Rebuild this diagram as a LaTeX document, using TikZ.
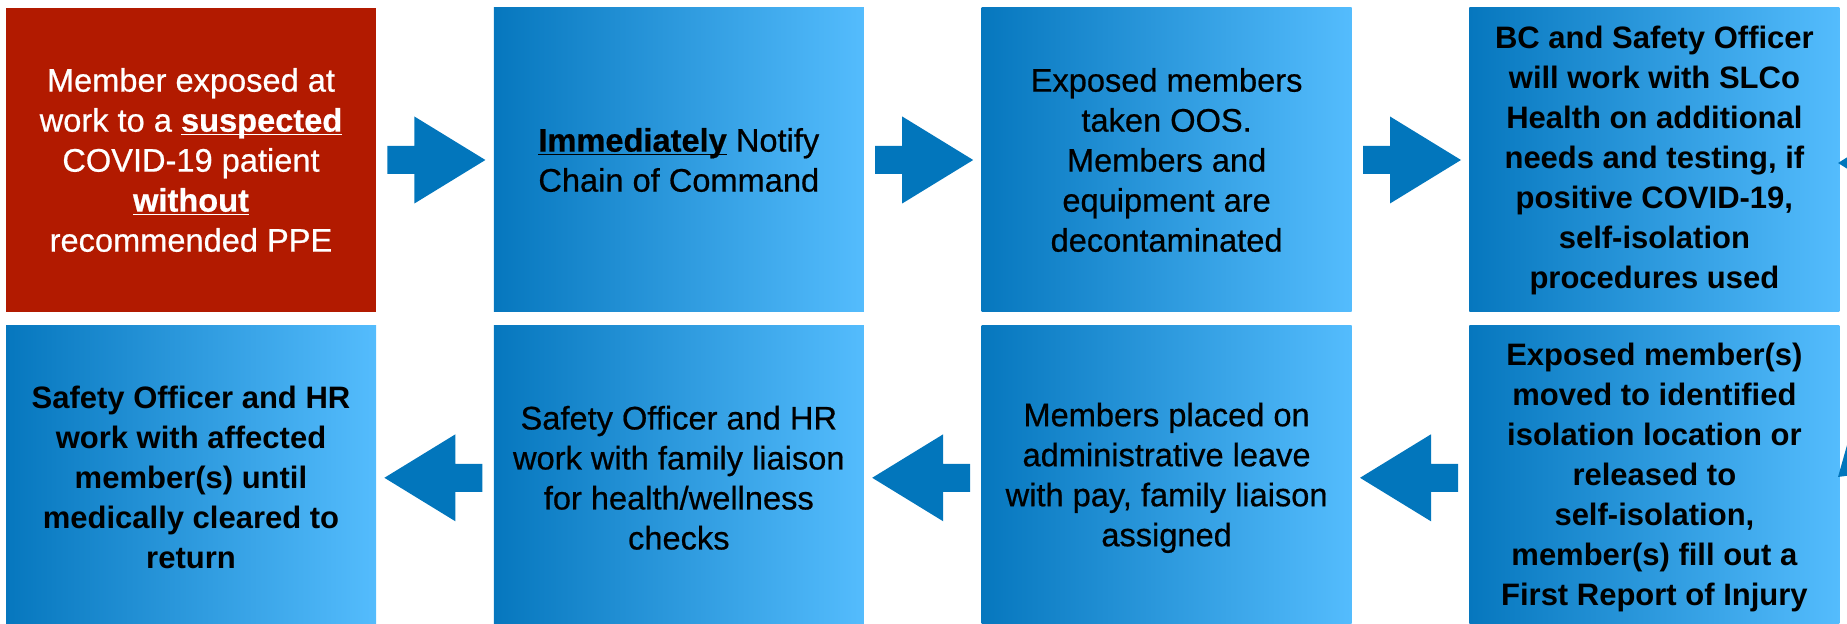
\documentclass[tikz,border=0pt]{standalone}
\usepackage{fontspec}
\setmainfont{Liberation Sans}
\newfontfamily\medfont{Liberation Sans}[FakeBold=0.6]
\usetikzlibrary{calc, positioning}
\definecolor{boxred}{RGB}{178,26,0}
\definecolor{boxdark}{RGB}{6,119,190}
\definecolor{boxlight}{RGB}{84,188,253}
\definecolor{arrowblue}{RGB}{2,118,188}
\newcommand\ulb[1]{\underline{\smash{\textbf{#1}}}}
\newcommand\barrow[2]{% from anchor, to anchor
  \coordinate (AT) at ($(#1)!5.5pt!(#2)$);   % tail of the arrow
  \coordinate (AP) at ($(#2)!4pt!(#1)$);     % tip of the arrow
  \coordinate (AH) at ($(AP)!35.5pt!(AT)$);  % base of the head
  \fill[arrowblue] ($(AT)!7pt!90:(AP)$) -- ($(AH)!7pt!-90:(AT)$) -- ($(AH)!21.75pt!-90:(AT)$)
    -- (AP) -- ($(AH)!21.75pt!90:(AT)$) -- ($(AH)!7pt!90:(AT)$) -- ($(AT)!7pt!-90:(AP)$) -- cycle;
}

\begin{document}
\begin{tikzpicture}[x=0.5pt,y=-0.5pt,
    basebox/.style={minimum width=185pt,minimum height=152pt,inner sep=0pt,align=center,font=\medfont\fontsize{16.3}{20}\selectfont},
    bluebox/.style={basebox,left color=boxdark,right color=boxlight},
    redbox/.style={basebox,fill=boxred,text=white},
    boldtext/.style={font=\fontsize{15.5}{20}\selectfont\bfseries}]
  \useasboundingbox (0,0) rectangle (1847,624);
  % top row
  \node[redbox] (S1) at (191,160) {Member exposed at\\work to a \ulb{suspected}\\COVID-19 patient\\\ulb{without}\\recommended PPE};
  \node[bluebox,right=58.5pt of S1] (S2) {\ulb{Immediately} Notify\\Chain of Command};
  \node[bluebox,right=58.5pt of S2] (S3) {Exposed members\\taken OOS.\\Members and\\equipment are\\decontaminated};
  \node[bluebox,boldtext,right=58.5pt of S3] (S4) {BC and Safety Officer\\will work with SLCo\\Health on additional\\needs and testing, if\\positive COVID-19,\\self-isolation\\procedures used};
  % bottom row
  \node[bluebox,boldtext,below=6.5pt of S4] (S5) {Exposed member(s)\\moved to identified\\isolation location or\\released to\\self-isolation,\\member(s) fill out a\\First Report of Injury};
  \node[bluebox,left=58.5pt of S5] (S6) {Members placed on\\administrative leave\\with pay, family liaison\\assigned};
  \node[bluebox,left=58.5pt of S6] (S7) {Safety Officer and HR\\work with family liaison\\for health/wellness\\checks};
  \node[bluebox,boldtext,left=58.5pt of S7] (S8) {Safety Officer and HR\\work with affected\\member(s) until\\medically cleared to\\return};
  % block arrows
  \barrow{S1.east}{S2.west}
  \barrow{S2.east}{S3.west}
  \barrow{S3.east}{S4.west}
  \barrow{S5.west}{S6.east}
  \barrow{S6.west}{S7.east}
  \barrow{S7.west}{S8.east}
  % edge of the turning arrow, cut off by the page
  \fill[arrowblue] (1838,163) -- (1870,143) -- (1870,183) -- cycle;
  \fill[arrowblue] (1838,477) -- (1851,431) -- (1860,474) -- cycle;
\end{tikzpicture}
\end{document}
